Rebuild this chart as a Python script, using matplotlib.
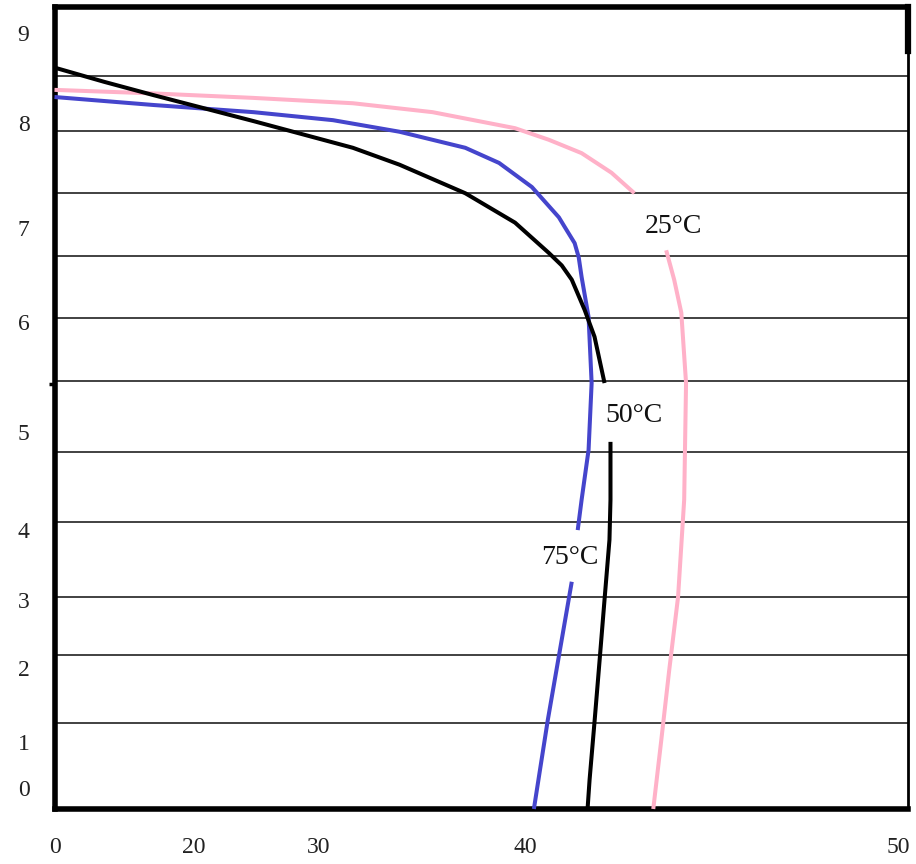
import matplotlib.pyplot as plt

# curve data (x: 0-50 axis units, y: 0-9 axis units)
x_50 = [-0.26, 2.67, 5.59, 11.45, 17.31, 20.06, 23.93, 26.86, 28.85, 29.61, 30.20, 30.96, 31.54, 32.13]
y_50 = [8.32, 8.16, 8.01, 7.72, 7.42, 7.23, 6.91, 6.58, 6.24, 6.10, 5.94, 5.60, 5.30, 4.78]
x_50b = [32.48, 32.48, 32.42, 32.13, 31.84, 31.55, 31.25, 31.13]
y_50b = [4.12, 3.47, 3.02, 2.35, 1.67, 1.00, 0.33, 0.0]

x_75 = [-0.26, 5.59, 11.45, 16.14, 20.06, 23.93, 25.92, 27.85, 29.44, 29.79, 30.37, 30.61, 30.78, 31.19, 31.37, 31.19, 30.78, 30.55]
y_75 = [7.99, 7.90, 7.82, 7.73, 7.60, 7.42, 7.25, 6.98, 6.64, 6.53, 6.35, 6.19, 5.97, 5.52, 4.78, 4.03, 3.47, 3.13]
x_75b = [30.20, 29.50, 28.79, 28.33, 27.97]
y_75b = [2.55, 1.78, 1.00, 0.44, 0.0]

x_25 = [-0.26, 5.59, 11.45, 17.31, 22.00, 26.86, 28.85, 30.78, 32.54, 33.89]
y_25 = [8.07, 8.03, 7.98, 7.92, 7.82, 7.64, 7.51, 7.36, 7.14, 6.91]
x_25b = [35.76, 36.23, 36.65, 36.93, 36.82, 36.46, 35.94, 35.47, 35.00]
y_25b = [6.27, 5.94, 5.57, 4.78, 3.47, 2.38, 1.56, 0.77, 0.0]

grid_y = [8.23, 7.61, 6.91, 6.21, 5.51, 4.80, 4.01, 3.22, 2.38, 1.73, 0.97]

ytick_pos = [8.71, 7.70, 6.52, 5.47, 4.23, 3.13, 2.35, 1.58, 0.75, 0.24]
ytick_lab = ['9', '8', '7', '6', '5', '4', '3', '2', '1', '0']
xtick_pos = [-0.26, 7.94, 15.32, 27.44, 49.41]
xtick_lab = ['0', '20', '30', '40', '50']

labels = ['25°C', '50°C', '75°C']
label_x = [36.17, 33.89, 30.08]
label_y = [6.54, 4.42, 2.82]

plt.rcParams['font.family'] = ['Liberation Serif', 'DejaVu Serif']

fig = plt.figure(figsize=(9.16, 8.64), dpi=100)
ax = fig.add_axes([54.5 / 916, 55 / 864, 853.5 / 916, 802 / 864])
ax.set_xlim(0, 50)
ax.set_ylim(0, 9)

for g in grid_y:
    ax.axhline(g, color='#333333', lw=1.3, zorder=1)

pink = '#ffb1c8'
blue = '#4545cc'
lw = 2.9
kw = dict(lw=lw, clip_on=False, solid_joinstyle='round', solid_capstyle='butt')
ax.plot(x_25, y_25, color=pink, zorder=3, **kw)
ax.plot(x_25b, y_25b, color=pink, zorder=3, **kw)
ax.plot(x_75, y_75, color=blue, zorder=4, **kw)
ax.plot(x_75b, y_75b, color=blue, zorder=4, **kw)
ax.plot(x_50, y_50, color='black', zorder=5, **kw)
ax.plot(x_50b, y_50b, color='black', zorder=5, **kw)

for t, x, y in zip(labels, label_x, label_y):
    ax.text(x, y, t, fontsize=20, ha='center', va='center', color='#111111')

ax.set_yticks(ytick_pos)
ax.set_yticklabels(ytick_lab, fontsize=17, color='#222222')
ax.set_xticks(xtick_pos)
ax.set_xticklabels(xtick_lab, fontsize=17, color='#222222')
ax.tick_params(axis='y', length=0, pad=18)
ax.tick_params(axis='x', length=0, pad=20)
ax.set_yticks([4.77], minor=True)
ax.tick_params(axis='y', which='minor', length=4, width=2.5, direction='out')

for s in ['left', 'bottom', 'top']:
    ax.spines[s].set_linewidth(4)
ax.spines['right'].set_linewidth(2)
ax.axvline(50, ymin=0.945, ymax=1, color='black', lw=4.5, clip_on=False)

fig.savefig('out.png', dpi=100, facecolor='white')
